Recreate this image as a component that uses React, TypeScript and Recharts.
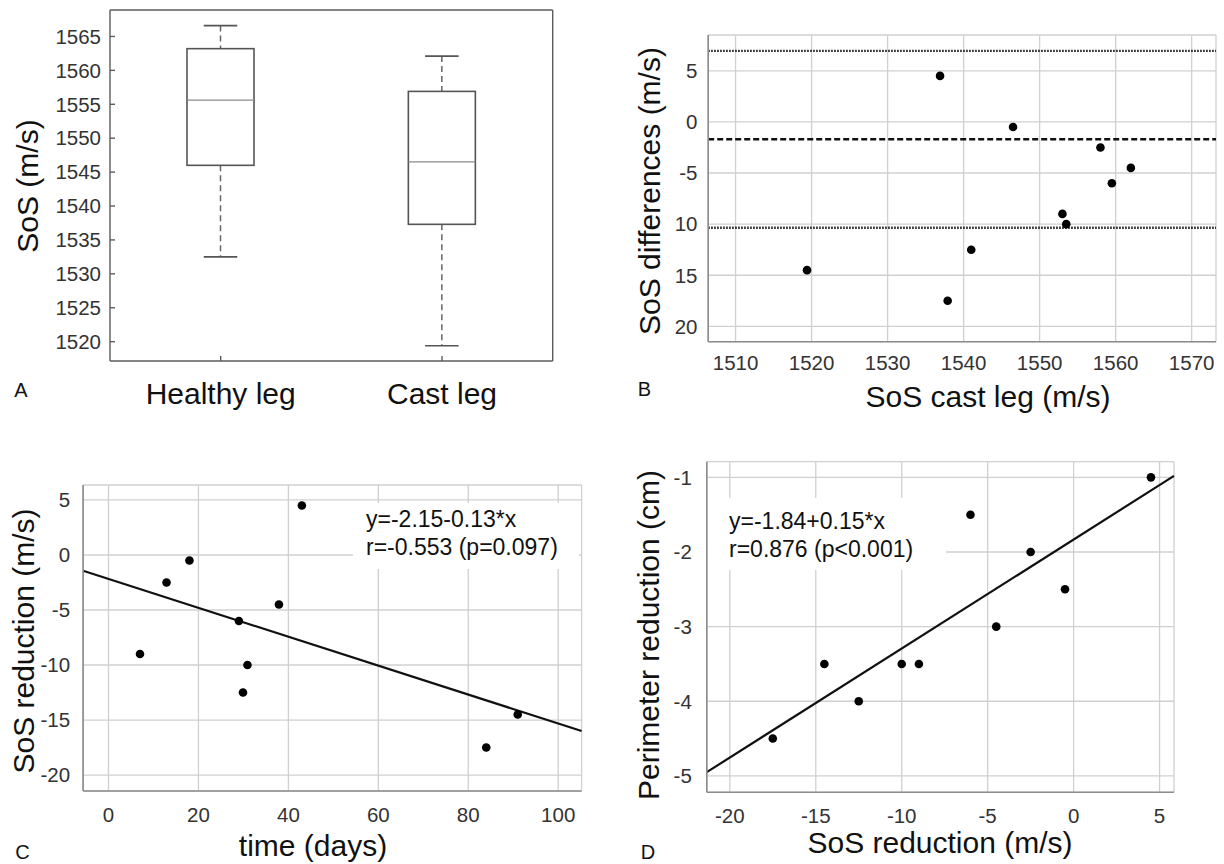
import React from "react";
import {
  ComposedChart,
  ScatterChart,
  Scatter,
  Bar,
  Line,
  XAxis,
  YAxis,
  CartesianGrid,
  ReferenceLine,
} from "recharts";

// panel A: box plot of SoS per leg
const legs = ["Healthy leg", "Cast leg"];
const whiskerLow = [1532.5, 1519.4];
const quartile1 = [1546.0, 1537.3];
const medians = [1555.6, 1546.5];
const quartile3 = [1563.2, 1556.9];
const whiskerHigh = [1566.6, 1562.1];
const sosTicks = [1520, 1525, 1530, 1535, 1540, 1545, 1550, 1555, 1560, 1565];

// panel B: Bland-Altman style plot
const castLegSos = [1519.4, 1536.9, 1537.9, 1541.0, 1546.5, 1553.0, 1553.5, 1558.0, 1559.5, 1562.0];
const sosDifferences = [-14.5, 4.5, -17.5, -12.5, -0.5, -9.0, -10.0, -2.5, -6.0, -4.5];
const diffMean = -1.7;
const diffUpper = 6.95;
const diffLower = -10.35;
const castTicks = [1510, 1520, 1530, 1540, 1550, 1560, 1570];
const diffTicks = [5, 0, -5, -10, -15, -20];
const diffTickLabels = ["5", "0", "-5", "10", "15", "20"];

// panel C: SoS reduction vs time
const days = [7.0, 12.9, 18.0, 29.0, 29.9, 30.9, 37.9, 43.0, 84.0, 91.0];
const sosReductionC = [-9.0, -2.5, -0.5, -6.0, -12.5, -10.0, -4.5, 4.5, -17.5, -14.5];
const timeTicks = [0, 20, 40, 60, 80, 100];
const reductionTicks = [5, 0, -5, -10, -15, -20];
const timeFitX = [-5.65, 105.2];
const timeFitY = [-1.43, -16.0];

// panel D: perimeter reduction vs SoS reduction
const sosReductionD = [-17.5, -14.5, -12.5, -10.0, -9.0, -6.0, -4.5, -2.5, -0.5, 4.5];
const perimeterReduction = [-4.5, -3.5, -4.0, -3.5, -3.5, -1.5, -3.0, -2.0, -2.5, -1.0];
const sosRedTicks = [-20, -15, -10, -5, 0, 5];
const perimTicks = [-1, -2, -3, -4, -5];
const perimFitX = [-21.34, 5.84];
const perimFitY = [-4.95, -0.98];

const FONT = '"Liberation Sans", Arial, Helvetica, sans-serif';
const TICK_SIZE = 20.5;
const TICK = { fill: "#333", fontSize: TICK_SIZE };
const GRID = "#d0d0d0";
const AXIS = { stroke: "#8c8c8c", strokeWidth: 1.6 };
const FRAME = { stroke: "#5c5c5c", strokeWidth: 1.4 };

const boxData = legs.map((name, i) => ({
  name,
  range: [whiskerLow[i], whiskerHigh[i]],
  lo: whiskerLow[i],
  q1: quartile1[i],
  med: medians[i],
  q3: quartile3[i],
  hi: whiskerHigh[i],
}));

const bPoints = castLegSos.map((x, i) => ({ x, y: sosDifferences[i] }));
const cPoints = days.map((x, i) => ({ x, y: sosReductionC[i] }));
const dPoints = sosReductionD.map((x, i) => ({ x, y: perimeterReduction[i] }));

const BoxShape = (props: any) => {
  const { x, y, width, height, payload } = props;
  if (!payload) return null;
  const top = Math.min(y, y + height);
  const bottom = Math.max(y, y + height);
  const py = (v: number) => top + ((payload.hi - v) / (payload.hi - payload.lo)) * (bottom - top);
  const cx = x + width / 2;
  const cap = width / 4;
  return (
    <g fill="none">
      <line x1={cx} x2={cx} y1={py(payload.hi)} y2={py(payload.q3)} stroke="#666" strokeWidth={1.5} strokeDasharray="6 4" />
      <line x1={cx} x2={cx} y1={py(payload.q1)} y2={py(payload.lo)} stroke="#666" strokeWidth={1.5} strokeDasharray="6 4" />
      <line x1={cx - cap} x2={cx + cap} y1={py(payload.hi)} y2={py(payload.hi)} stroke="#555" strokeWidth={1.6} />
      <line x1={cx - cap} x2={cx + cap} y1={py(payload.lo)} y2={py(payload.lo)} stroke="#555" strokeWidth={1.6} />
      <rect x={x} y={py(payload.q3)} width={width} height={py(payload.q1) - py(payload.q3)} stroke="#555" strokeWidth={1.6} fill="#fff" />
      <line x1={x} x2={x + width} y1={py(payload.med)} y2={py(payload.med)} stroke="#8a8a8a" strokeWidth={1.2} />
    </g>
  );
};

const Dot = (p: any) => <circle cx={p.cx} cy={p.cy} r={4.3} fill="#000" />;

function Caption({ text, x, y, size = 30, rotate = false }: { text: string; x: number; y: number; size?: number; rotate?: boolean }) {
  return (
    <div
      style={{
        position: "absolute",
        left: x,
        top: y,
        transform: `translate(-50%, -50%)${rotate ? " rotate(-90deg)" : ""}`,
        fontSize: size,
        lineHeight: 1,
        whiteSpace: "nowrap",
        color: "#111",
      }}
    >
      {text}
    </div>
  );
}

function FitText({ lines, left, top, width, height, padLeft, padTop }: { lines: string[]; left: number; top: number; width: number; height: number; padLeft: number; padTop: number }) {
  return (
    <div
      style={{
        position: "absolute",
        left,
        top,
        width,
        height,
        background: "#fff",
        boxSizing: "border-box",
        paddingLeft: padLeft,
        paddingTop: padTop,
        fontSize: 23,
        lineHeight: "28px",
        color: "#111",
        whiteSpace: "nowrap",
      }}
    >
      {lines.map((l) => (
        <div key={l}>{l}</div>
      ))}
    </div>
  );
}

function PanelA() {
  return (
    <ComposedChart width={600} height={420} data={boxData} margin={{ top: 0, right: 0, bottom: 0, left: 0 }}>
      <XAxis
        xAxisId="bottom"
        dataKey="name"
        type="category"
        height={59}
        interval={0}
        tickSize={-5}
        tickMargin={26.7}
        fontSize={30}
        axisLine={FRAME}
        tickLine={FRAME}
        tick={{ fill: "#111", fontSize: 30 }}
      />
      <XAxis xAxisId="top" orientation="top" dataKey="name" type="category" height={10} tickSize={-5} tick={false} axisLine={FRAME} tickLine={FRAME} />
      <YAxis
        yAxisId="left"
        type="number"
        domain={[1517.15, 1568.9]}
        allowDataOverflow
        ticks={sosTicks}
        interval={0}
        width={110}
        tickSize={-5}
        tickMargin={14}
        fontSize={TICK_SIZE}
        axisLine={FRAME}
        tickLine={FRAME}
        tick={TICK}
      />
      <YAxis
        yAxisId="right"
        orientation="right"
        type="number"
        domain={[1517.15, 1568.9]}
        allowDataOverflow
        ticks={sosTicks}
        interval={0}
        width={47.3}
        tickSize={-4.5}
        tick={false}
        axisLine={FRAME}
        tickLine={FRAME}
      />
      <Bar xAxisId="bottom" yAxisId="left" dataKey="range" barSize={67} shape={BoxShape} isAnimationActive={false} />
      <Line xAxisId="top" yAxisId="right" dataKey="med" stroke="none" dot={false} activeDot={false} isAnimationActive={false} />
    </ComposedChart>
  );
}

function PanelB() {
  return (
    <ScatterChart width={624} height={420} margin={{ top: 35, right: 8, bottom: 0, left: 0 }}>
      <CartesianGrid stroke={GRID} strokeWidth={1.3} />
      <XAxis
        type="number"
        dataKey="x"
        domain={[1506.4, 1573.2]}
        allowDataOverflow
        ticks={castTicks}
        interval={0}
        height={78.3}
        tickLine={false}
        tickSize={0}
        tickMargin={14}
        fontSize={TICK_SIZE}
        axisLine={AXIS}
        tick={TICK}
      />
      <YAxis
        type="number"
        dataKey="y"
        domain={[-21.5, 8.5]}
        allowDataOverflow
        ticks={diffTicks}
        interval={0}
        width={108.2}
        tickLine={false}
        tickSize={0}
        tickMargin={10.7}
        fontSize={TICK_SIZE}
        axisLine={AXIS}
        tick={TICK}
        tickFormatter={(v: number) => diffTickLabels[diffTicks.indexOf(v)]}
      />
      <ReferenceLine y={diffUpper} stroke="#111" strokeWidth={2.4} strokeDasharray="1.5 1.5" ifOverflow="visible" />
      <ReferenceLine y={diffMean} stroke="#111" strokeWidth={2.4} strokeDasharray="6 3" ifOverflow="visible" />
      <ReferenceLine y={diffLower} stroke="#111" strokeWidth={2.4} strokeDasharray="1.5 1.5" ifOverflow="visible" />
      <Scatter data={bPoints} shape={Dot} isAnimationActive={false} />
    </ScatterChart>
  );
}

function PanelC() {
  return (
    <ScatterChart width={612} height={444} margin={{ top: 65, right: 30.4, bottom: 0, left: 0 }}>
      <CartesianGrid stroke={GRID} strokeWidth={1.3} />
      <XAxis
        type="number"
        dataKey="x"
        domain={[-5.65, 105.2]}
        allowDataOverflow
        ticks={timeTicks}
        interval={0}
        height={73}
        tickLine={false}
        tickSize={0}
        tickMargin={16}
        fontSize={TICK_SIZE}
        axisLine={AXIS}
        tick={TICK}
      />
      <YAxis
        type="number"
        dataKey="y"
        domain={[-21.45, 6.36]}
        allowDataOverflow
        ticks={reductionTicks}
        interval={0}
        width={83.1}
        tickLine={false}
        tickSize={0}
        tickMargin={13}
        fontSize={TICK_SIZE}
        axisLine={AXIS}
        tick={TICK}
      />
      <ReferenceLine
        segment={[
          { x: timeFitX[0], y: timeFitY[0] },
          { x: timeFitX[1], y: timeFitY[1] },
        ]}
        stroke="#111"
        strokeWidth={2.2}
        ifOverflow="visible"
      />
      <Scatter data={cPoints} shape={Dot} isAnimationActive={false} />
    </ScatterChart>
  );
}

function PanelD() {
  return (
    <ScatterChart width={612} height={444} margin={{ top: 41.7, right: 50, bottom: 0, left: 0 }}>
      <CartesianGrid stroke={GRID} strokeWidth={1.3} />
      <XAxis
        type="number"
        dataKey="x"
        domain={[-21.34, 5.84]}
        allowDataOverflow
        ticks={sosRedTicks}
        interval={0}
        height={71.7}
        tickLine={false}
        tickSize={0}
        tickMargin={16}
        fontSize={TICK_SIZE}
        axisLine={AXIS}
        tick={TICK}
      />
      <YAxis
        type="number"
        dataKey="y"
        domain={[-5.22, -0.79]}
        allowDataOverflow
        ticks={perimTicks}
        interval={0}
        width={94.8}
        tickLine={false}
        tickSize={0}
        tickMargin={15}
        fontSize={TICK_SIZE}
        axisLine={AXIS}
        tick={TICK}
      />
      <ReferenceLine
        segment={[
          { x: perimFitX[0], y: perimFitY[0] },
          { x: perimFitX[1], y: perimFitY[1] },
        ]}
        stroke="#111"
        strokeWidth={2.2}
        ifOverflow="visible"
      />
      <Scatter data={dPoints} shape={Dot} isAnimationActive={false} />
    </ScatterChart>
  );
}

export default function App() {
  return (
    <div
      style={{
        position: "absolute",
        left: 0,
        top: 0,
        width: 1224,
        height: 864,
        background: "#fff",
        overflow: "hidden",
        fontFamily: FONT,
        fontSize: TICK_SIZE,
      }}
    >
      <div style={{ position: "absolute", left: 0, top: 0 }}>
        <PanelA />
      </div>
      <div style={{ position: "absolute", left: 600, top: 0 }}>
        <PanelB />
      </div>
      <div style={{ position: "absolute", left: 0, top: 420 }}>
        <PanelC />
      </div>
      <div style={{ position: "absolute", left: 612, top: 420 }}>
        <PanelD />
      </div>

      <FitText lines={["y=-2.15-0.13*x", "r=-0.553 (p=0.097)"]} left={353} top={503} width={226} height={66} padLeft={13} padTop={2} />
      <FitText lines={["y=-1.84+0.15*x", "r=0.876 (p<0.001)"]} left={708} top={498} width={238} height={72} padLeft={21} padTop={9} />

      <Caption text="SoS (m/s)" x={27.5} y={186} rotate />
      <Caption text="SoS differences (m/s)" x={650} y={191} rotate />
      <Caption text="SoS cast leg (m/s)" x={988} y={397} />
      <Caption text="SoS reduction (m/s)" x={23.5} y={641} rotate />
      <Caption text="time (days)" x={313} y={846} />
      <Caption text="Perimeter reduction (cm)" x={649} y={635} rotate />
      <Caption text="SoS reduction (m/s)" x={940} y={843} />

      <Caption text="A" x={21} y={390} size={20} />
      <Caption text="B" x={644.5} y={389} size={20} />
      <Caption text="C" x={22.5} y={852} size={20} />
      <Caption text="D" x={648} y={852} size={20} />
    </div>
  );
}
